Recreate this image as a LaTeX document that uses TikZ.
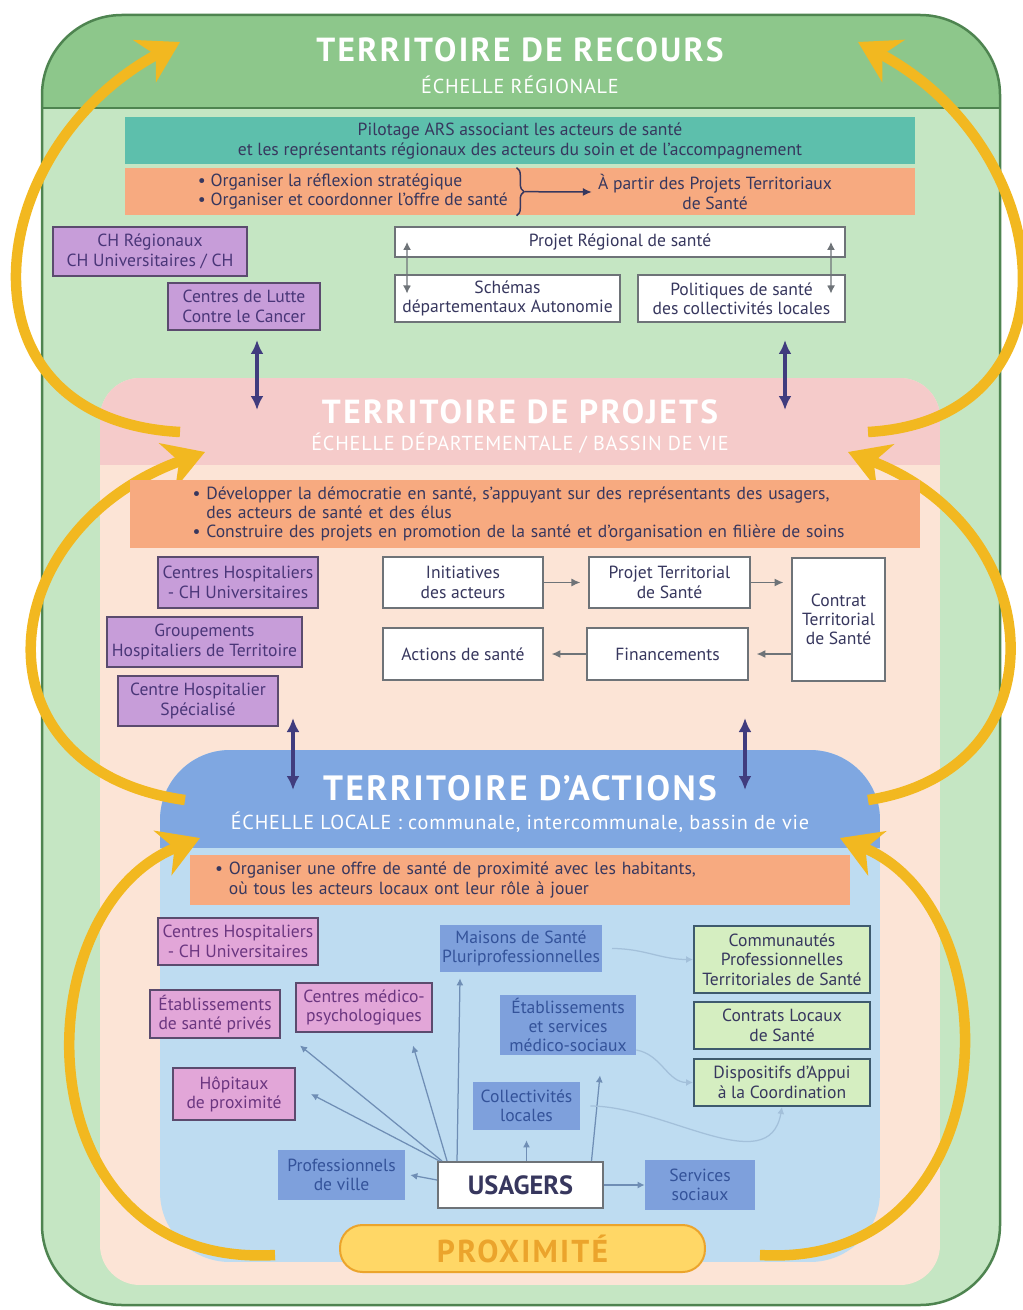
\documentclass[tikz,border=0pt]{standalone}
\usepackage{fontspec}
\setmainfont{PT Sans}
\newfontfamily\levelfont[LetterSpace=7]{PT Sans}
\newfontfamily\sublevelfont[LetterSpace=4]{PT Sans}
\usetikzlibrary{arrows.meta, positioning, calc, decorations.pathreplacing}
\definecolor{recoursGreen}{HTML}{8DC78B}
\definecolor{recoursLight}{HTML}{C5E6C3}
\definecolor{frameGreen}{HTML}{4E8450}
\definecolor{pilotTeal}{HTML}{5DBFAC}
\definecolor{orgSalmon}{HTML}{F7AA80}
\definecolor{chPurple}{HTML}{C79DD9}
\definecolor{chBorder}{HTML}{5B4B6E}
\definecolor{chText}{HTML}{4A3678}
\definecolor{pinkText}{HTML}{6B3680}
\definecolor{projBand}{HTML}{F5CBCA}
\definecolor{projLight}{HTML}{FCE4D6}
\definecolor{actBand}{HTML}{7FA7E1}
\definecolor{actLight}{HTML}{BEDCF1}
\definecolor{locPink}{HTML}{E2A6D8}
\definecolor{locBlue}{HTML}{7EA0DC}
\definecolor{blueText}{HTML}{34539A}
\definecolor{locGreen}{HTML}{D5EEC1}
\definecolor{greenBorder}{HTML}{3E5A6E}
\definecolor{boxGrey}{HTML}{6E7378}
\definecolor{inkNavy}{HTML}{37375E}
\definecolor{lvlIndigo}{HTML}{403C7E}
\definecolor{arcGold}{HTML}{F2B820}
\definecolor{pillYellow}{HTML}{FFD766}
\definecolor{pillOrange}{HTML}{EBA42C}
\definecolor{linkBlue}{HTML}{6F8EB5}
\definecolor{faintBlue}{HTML}{A3C0DA}

\begin{document}
\begin{tikzpicture}[x=0.02cm, y=-0.02cm,
    txt/.style={font=\fontsize{10}{11}\selectfont},
    stripebox/.style={rectangle, inner sep=0pt, txt, text=inkNavy},
    chbox/.style={rectangle, draw=chBorder, line width=0.04cm, fill=chPurple,
                  align=center, txt, text=chText, inner sep=1pt},
    pinkbox/.style={chbox, fill=locPink, text=pinkText},
    wbox/.style={rectangle, draw=boxGrey, line width=0.04cm, fill=white,
                 align=center, txt, text=inkNavy, inner sep=1pt},
    bluebox/.style={rectangle, fill=locBlue, align=center, txt, text=blueText, inner sep=1pt},
    greenbox/.style={rectangle, draw=greenBorder, line width=0.04cm, fill=locGreen,
                     align=center, txt, text=inkNavy, inner sep=1pt},
    lvltitle/.style={text=white, font=\levelfont\fontsize{19}{21}\selectfont\bfseries},
    lvlsub/.style={text=white, font=\sublevelfont\fontsize{11.5}{13}\selectfont},
    pill/.style={rectangle, rounded corners=0.45cm, draw=pillOrange, line width=0.04cm,
                 fill=pillYellow, text=pillOrange, font=\levelfont\fontsize{18}{20}\selectfont\bfseries,
                 minimum width=7.3cm, minimum height=0.94cm},
    lvlarrow/.style={{Latex[length=0.28cm,width=0.26cm]}-{Latex[length=0.28cm,width=0.26cm]},
                     line width=0.07cm, draw=lvlIndigo},
    dbl/.style={{Latex[length=0.16cm,width=0.16cm]}-{Latex[length=0.16cm,width=0.16cm]},
                line width=0.025cm, draw=boxGrey},
    flow/.style={-{Latex[length=0.18cm,width=0.16cm]}, line width=0.03cm, draw=boxGrey},
    link/.style={-{Latex[length=0.14cm,width=0.14cm]}, line width=0.025cm, draw=linkBlue},
    faint/.style={link, draw=faintBlue},
    goldarc/.style={line width=0.21cm, draw=arcGold,
                    -{Stealth[length=0.8cm,width=0.95cm,inset=0.25cm]}},
  ]
  \useasboundingbox (0,0) rectangle (1023,1310);

  \begin{scope}
    \clip[rounded corners=1.6cm] (42,15) rectangle (1000,1305);
    \fill[recoursLight] (42,15) rectangle (1000,1305);
    \fill[recoursGreen] (42,15) rectangle (1000,108);
  \end{scope}
  \draw[frameGreen, line width=0.05cm, rounded corners=1.6cm] (42,15) rectangle (1000,1305);
  \draw[frameGreen, line width=0.05cm] (42,108) -- (1000,108);

  \begin{scope}
    \clip[rounded corners=0.8cm] (100,378) rectangle (940,1285);
    \fill[projLight] (100,378) rectangle (940,1285);
    \fill[projBand] (100,378) rectangle (940,465);
  \end{scope}

  \begin{scope}
    \clip[rounded corners=1.4cm] (160,750) rectangle (880,1262);
    \fill[actLight] (160,750) rectangle (880,1262);
    \fill[actBand] (160,750) rectangle (880,848);
  \end{scope}

  \draw[goldarc] (180,432) .. controls (-50,420) and (-20,150) .. (180,42);
  \draw[goldarc] (868,432) .. controls (1085,420) and (1060,150) .. (858,42);
  \draw[goldarc] (185,800) .. controls (-30,770) and (-10,530) .. (205,452);
  \draw[goldarc] (868,800) .. controls (1065,770) and (1050,530) .. (848,452);
  \draw[goldarc] (275,1255) .. controls (20,1270) and (20,910) .. (200,838);
  \draw[goldarc] (760,1255) .. controls (1010,1270) and (1015,910) .. (840,838);

  \node[lvltitle] (recoursT) at (520,50) {TERRITOIRE DE RECOURS};
  \node[lvlsub] (recoursS) at (520,85) {ÉCHELLE RÉGIONALE};

  \node[stripebox, fill=pilotTeal, minimum width=15.8cm, minimum height=0.94cm, align=center]
    (pilotage) at (520,141)
    {Pilotage ARS associant les acteurs de santé\\et les représentants régionaux des acteurs du soin et de l’accompagnement};
  \node[stripebox, fill=orgSalmon, minimum width=15.8cm, minimum height=0.94cm,
    below=0.06cm of pilotage] (organiser) {};
  \node[txt, text=inkNavy, align=left, anchor=west] (orgtxt) at ([xshift=1.34cm]organiser.west)
    {\textbullet~Organiser la réflexion stratégique\\\textbullet~Organiser et coordonner l’offre de santé};
  \node[txt, text=inkNavy, align=center] (apartir) at (715,192)
    {À partir des Projets Territoriaux\\de Santé};
  \draw[inkNavy, line width=0.03cm, decorate, decoration={brace, amplitude=0.15cm}]
    ([xshift=0.05cm]orgtxt.north east) -- ([xshift=0.05cm]orgtxt.south east);
  \draw[flow, draw=inkNavy] ([xshift=0.22cm]orgtxt.east) -- (apartir.west);

  \node[chbox, minimum width=3.88cm, minimum height=0.98cm] (chreg) at (150,251.5)
    {CH Régionaux\\CH Universitaires / CH};
  \node[chbox, minimum width=3.04cm, minimum height=0.94cm] (lutte) at (244,306.5)
    {Centres de Lutte\\Contre le Cancer};

  \node[wbox, minimum width=9cm, minimum height=0.6cm] (prs) at (620,242) {Projet Régional de santé};
  \node[wbox, minimum width=4.5cm, minimum height=0.94cm] (schemas) at (507.5,298.5)
    {Schémas\\départementaux Autonomie};
  \node[wbox, minimum width=4.14cm, minimum height=0.94cm] (politiques) at (741.5,298.5)
    {Politiques de santé\\des collectivités locales};
  \draw[dbl] ([xshift=0.26cm]prs.west) -- ([xshift=0.26cm,yshift=0.1cm]schemas.west);
  \draw[dbl] ([xshift=-0.3cm]prs.east) -- ([xshift=-0.3cm,yshift=0.1cm]politiques.east);

  \coordinate (recL) at (257,340);
  \coordinate (projL) at (257,410);
  \coordinate (recR) at (785,340);
  \coordinate (projR) at (785,410);
  \draw[lvlarrow] (recL) -- (projL);
  \draw[lvlarrow] (recR) -- (projR);

  \node[lvltitle] (projetsT) at (520,412) {TERRITOIRE DE PROJETS};
  \node[lvlsub] (projetsS) at (520,443) {ÉCHELLE DÉPARTEMENTALE / BASSIN DE VIE};

  \node[stripebox, fill=orgSalmon, minimum width=15.8cm, minimum height=1.36cm,
    text width=13.3cm, align=left] (democratie) at (525,514)
    {\textbullet~Développer la démocratie en santé, s’appuyant sur des représentants des usagers,\\
     \phantom{\textbullet~}des acteurs de santé et des élus\\
     \textbullet~Construire des projets en promotion de la santé et d’organisation en filière de soins};

  \node[chbox, minimum width=3.2cm, minimum height=1.02cm] (chu2) at (238,582.5)
    {Centres Hospitaliers\\- CH Universitaires};
  \node[chbox, minimum width=3.9cm, minimum height=1cm, below=0.14cm of chu2, xshift=-0.67cm] (ght)
    {Groupements\\Hospitaliers de Territoire};
  \node[chbox, minimum width=3.2cm, minimum height=1cm, below=0.14cm of ght, xshift=-0.13cm] (chs)
    {Centre Hospitalier\\Spécialisé};

  \node[wbox, minimum width=3.2cm, minimum height=1.02cm] (initiatives) at (463,582.5)
    {Initiatives\\des acteurs};
  \node[wbox, minimum width=3.22cm, minimum height=1.02cm, right=0.88cm of initiatives] (pts)
    {Projet Territorial\\de Santé};
  \node[wbox, minimum width=1.86cm, minimum height=2.46cm, anchor=north west] (cts) at (791,557)
    {Contrat\\Territorial\\de Santé};
  \node[wbox, minimum width=3.2cm, minimum height=1.04cm] (actsante) at (463,654) {Actions de santé};
  \node[wbox, minimum width=3.22cm, minimum height=1.04cm] (financements) at (667.5,654) {Financements};
  \draw[flow, shorten >=0.15cm] (initiatives) -- (pts);
  \draw[flow, shorten >=0.15cm] (pts) -- (pts -| cts.west);
  \draw[flow, shorten >=0.15cm] (financements -| cts.west) -- (financements);
  \draw[flow, shorten >=0.15cm] (financements) -- (actsante);

  \coordinate (projL2) at (293,718);
  \coordinate (actL) at (293,790);
  \coordinate (projR2) at (745,718);
  \coordinate (actR) at (745,790);
  \draw[lvlarrow] (projL2) -- (actL);
  \draw[lvlarrow] (projR2) -- (actR);

  \node[lvltitle, font=\levelfont\fontsize{20}{22}\selectfont\bfseries] (actionsT) at (520,788) {TERRITOIRE D’ACTIONS};
  \node[lvlsub] (actionsS) at (520,822) {ÉCHELLE LOCALE : communale, intercommunale, bassin de vie};

  \node[stripebox, fill=orgSalmon, minimum width=13.2cm, minimum height=1cm,
    text width=12.2cm, align=left] (proxbar) at (520,880)
    {\textbullet~Organiser une offre de santé de proximité avec les habitants,\\
     \phantom{\textbullet~}où tous les acteurs locaux ont leur rôle à jouer};

  \node[pinkbox, minimum width=3.2cm, minimum height=0.94cm] (chu3) at (238,941.5)
    {Centres Hospitaliers\\- CH Universitaires};
  \node[pinkbox, minimum width=2.6cm, minimum height=0.96cm] (esp) at (215,1014)
    {Établissements\\de santé privés};
  \node[pinkbox, minimum width=2.72cm, minimum height=0.98cm] (cmp) at (364,1007.5)
    {Centres médico-\\psychologiques};
  \node[pinkbox, minimum width=2.44cm, minimum height=1.04cm] (hp) at (234,1094)
    {Hôpitaux\\de proximité};

  \node[bluebox, minimum width=3.16cm, minimum height=0.94cm] (msp) at (521,948.5)
    {Maisons de Santé\\Pluriprofessionnelles};
  \node[bluebox, minimum width=2.72cm, minimum height=1.2cm] (essms) at (568,1025)
    {Établissements\\et services\\médico-sociaux};
  \node[bluebox, minimum width=2.14cm, minimum height=0.96cm] (colloc) at (526.5,1106)
    {Collectivités\\locales};
  \node[bluebox, minimum width=2.54cm, minimum height=1cm] (proville) at (341.5,1175)
    {Professionnels\\de ville};
  \node[bluebox, minimum width=2.2cm, minimum height=1cm] (sersoc) at (700,1185)
    {Services\\sociaux};

  \node[greenbox, minimum width=3.52cm, minimum height=1.34cm] (cpts) at (782,959.5)
    {Communautés\\Professionnelles\\Territoriales de Santé};
  \node[greenbox, minimum width=3.52cm, minimum height=0.94cm, below=0.14cm of cpts] (cls)
    {Contrats Locaux\\de Santé};
  \node[greenbox, minimum width=3.52cm, minimum height=0.94cm, below=0.16cm of cls] (dac)
    {Dispositifs d’Appui\\à la Coordination};

  \node[wbox, minimum width=3.3cm, minimum height=0.92cm, font=\fontsize{15}{17}\selectfont\bfseries]
    (usagers) at (520.5,1185) {USAGERS};
  \node[pill] (proximite) at (522.5,1248.5) {PROXIMITÉ};

  \draw[link] ([xshift=0.1cm]usagers.north west) -- ([xshift=0.1cm,yshift=-0.25cm]cmp.south west);
  \draw[link] ([xshift=0.2cm]usagers.north west) -- ([xshift=-0.4cm,yshift=-0.25cm]cmp.south east);
  \draw[link] ([xshift=0.05cm]usagers.north west) -- ([xshift=0.3cm]hp.east);
  \draw[link] ([yshift=0.1cm]usagers.west) -- ([xshift=0.1cm]proville.east);
  \draw[link] ([xshift=0.4cm]usagers.north west) -- ([xshift=0.4cm,yshift=-0.12cm]msp.south west);
  \draw[link] (usagers.north -| colloc.south) -- ([yshift=-0.2cm]colloc.south);
  \draw[link] ([xshift=-0.25cm]usagers.north east) -- ([xshift=0.64cm,yshift=-0.4cm]essms.south);
  \draw[link] (usagers.east) -- (sersoc.west);
  \draw[faint] ([xshift=0.2cm]msp.east) to[out=0, in=180] (cpts.west);
  \draw[faint] ([yshift=-0.5cm]essms.east) to[out=-10, in=180] (dac.west);
  \draw[faint] ([xshift=0.2cm]colloc.east) to[out=0, in=-100] (dac.south);
\end{tikzpicture}
\end{document}
